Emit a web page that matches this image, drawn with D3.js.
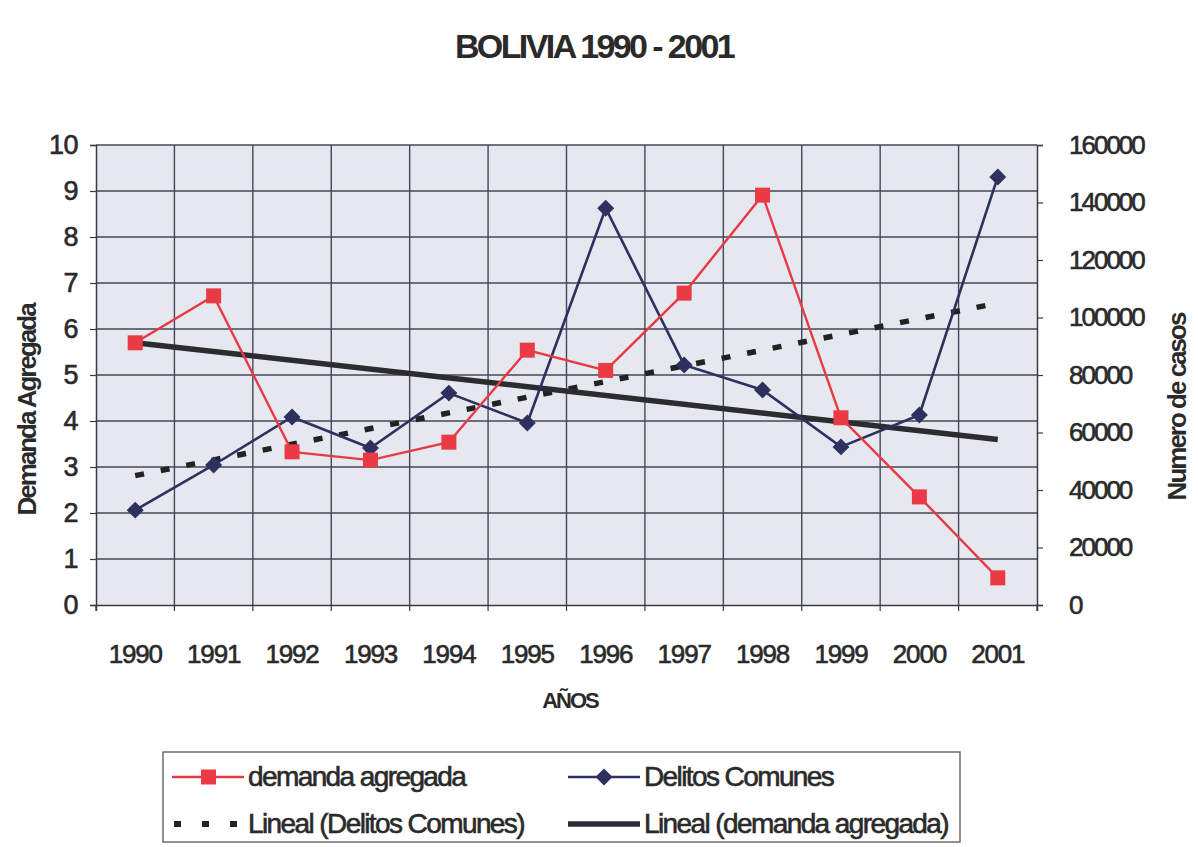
<!DOCTYPE html>
<html>
<head>
<meta charset="utf-8">
<script src="https://cdn.jsdelivr.net/npm/d3@7"></script>
<style>
  body { margin: 0; background: #fff; }
  svg text { font-family: "Liberation Sans", Arial, sans-serif; fill: #2a2a2a; }
  .heavy { stroke: #2a2a2a; stroke-width: 0.6px; }
</style>
</head>
<body>
<svg id="chart" width="1198" height="847"></svg>
<script>
// data
const years = ["1990","1991","1992","1993","1994","1995","1996","1997","1998","1999","2000","2001"];
const demanda = [5.7, 6.72, 3.33, 3.15, 3.54, 5.54, 5.1, 6.78, 8.91, 4.07, 2.35, 0.59];
const delitos = [33000, 48700, 65400, 54600, 73700, 63300, 138000, 83500, 74800, 55000, 66100, 148900];
// trend lines (endpoints 1990 and 2001)
const trendYears = ["1990", "2001"];
const trendDemanda = [5.7, 3.6];
const trendDelitos = [45000, 105000];
const leftTicks = [0,1,2,3,4,5,6,7,8,9,10];
const rightTicks = [0,20000,40000,60000,80000,100000,120000,140000,160000];

const svg = d3.select("#chart");

const plotL = 96, plotR = 1037, plotT = 145, plotB = 605;

const x = d3.scaleBand().domain(years).range([plotL, plotR]);
const cx = d => x(d) + x.bandwidth() / 2;
const yL = d3.scaleLinear().domain([0, 10]).range([plotB, plotT]);
const yR = d3.scaleLinear().domain([0, 160000]).range([plotB, plotT]);

// plot background
svg.append("rect")
  .attr("x", plotL).attr("y", plotT)
  .attr("width", plotR - plotL).attr("height", plotB - plotT)
  .attr("fill", "#e6e8f0");

// grid
const grid = svg.append("g").attr("stroke", "#44475a").attr("stroke-width", 1.4);
grid.selectAll(".hg").data(leftTicks.slice(1)).join("line")
  .attr("x1", plotL).attr("x2", plotR)
  .attr("y1", d => yL(d)).attr("y2", d => yL(d));
grid.selectAll(".vg").data(years.slice(1)).join("line")
  .attr("x1", d => x(d)).attr("x2", d => x(d))
  .attr("y1", plotT).attr("y2", plotB);

// axes
const axL = svg.append("g").attr("transform", `translate(${plotL},0)`)
  .call(d3.axisLeft(yL).tickValues(leftTicks).tickSize(6).tickPadding(12));
const axR = svg.append("g").attr("transform", `translate(${plotR},0)`)
  .call(d3.axisRight(yR).tickValues(rightTicks).tickSize(6).tickPadding(26).tickFormat(d3.format("d")));
const axB = svg.append("g").attr("transform", `translate(0,${plotB})`)
  .call(d3.axisBottom(x).tickSize(6).tickPadding(34));

[axL, axR, axB].forEach(a => {
  a.select(".domain").attr("stroke", "#3a3a44").attr("stroke-width", 1.5);
  a.selectAll(".tick line").attr("stroke", "#3a3a44").attr("stroke-width", 1.2);
  a.selectAll("text").attr("fill", "#2a2a2a").attr("class", "heavy")
    .style("font-family", "'Liberation Sans', Arial, sans-serif");
});
axL.selectAll("text").attr("font-size", 27).attr("letter-spacing", -0.5);
axR.selectAll("text").attr("font-size", 26).attr("letter-spacing", -2);
axB.selectAll("text").attr("font-size", 26).attr("letter-spacing", -1.2);
axB.selectAll(".tick line").remove();

// bottom ticks sit on the band boundaries
svg.append("g").attr("stroke", "#3a3a44").attr("stroke-width", 1.2)
  .selectAll("line").data(years.concat(["end"])).join("line")
  .attr("x1", d => d === "end" ? plotR : x(d)).attr("x2", d => d === "end" ? plotR : x(d))
  .attr("y1", plotB).attr("y2", plotB + 6);

// trend lines
const trendL = d3.line().x((d, i) => cx(trendYears[i])).y(d => yL(d));
const trendR = d3.line().x((d, i) => cx(trendYears[i])).y(d => yR(d));

svg.append("path").datum(trendDelitos)
  .attr("d", trendR).attr("fill", "none")
  .attr("stroke", "#222").attr("stroke-width", 5.5)
  .attr("stroke-dasharray", "9,17");

svg.append("path").datum(trendDemanda)
  .attr("d", trendL).attr("fill", "none")
  .attr("stroke", "#2b2b30").attr("stroke-width", 5.5);

// series lines
const lineL = d3.line().x((d, i) => cx(years[i])).y(d => yL(d));
const lineR = d3.line().x((d, i) => cx(years[i])).y(d => yR(d));

svg.append("path").datum(delitos)
  .attr("d", lineR).attr("fill", "none")
  .attr("stroke", "#2e3060").attr("stroke-width", 2.6);

svg.append("path").datum(demanda)
  .attr("d", lineL).attr("fill", "none")
  .attr("stroke", "#e83a44").attr("stroke-width", 2.4);

// markers
svg.append("g").selectAll("path").data(delitos).join("path")
  .attr("transform", (d, i) => `translate(${cx(years[i])},${yR(d)}) rotate(45)`)
  .attr("d", "M-6,-6H6V6H-6Z")
  .attr("fill", "#2e3060");

svg.append("g").selectAll("rect").data(demanda).join("rect")
  .attr("x", (d, i) => cx(years[i]) - 7.5)
  .attr("y", d => yL(d) - 7.5)
  .attr("width", 15).attr("height", 15)
  .attr("fill", "#ea3a45");

// titles
svg.append("text").attr("x", 594).attr("y", 58)
  .attr("text-anchor", "middle").attr("font-size", 34).attr("font-weight", "bold")
  .attr("letter-spacing", -2.6).text("BOLIVIA 1990 - 2001");

svg.append("text").attr("x", 570).attr("y", 708)
  .attr("text-anchor", "middle").attr("font-size", 22).attr("font-weight", "bold")
  .attr("letter-spacing", -2).text("AÑOS");

svg.append("text")
  .attr("transform", "translate(36,410) rotate(-90)")
  .attr("text-anchor", "middle").attr("font-size", 26).attr("font-weight", "bold")
  .attr("letter-spacing", -2).text("Demanda Agregada");

svg.append("text")
  .attr("transform", "translate(1186,407) rotate(-90)")
  .attr("text-anchor", "middle").attr("font-size", 26).attr("font-weight", "bold")
  .attr("letter-spacing", -2).text("Numero de casos");

// legend
const leg = svg.append("g");
leg.append("rect").attr("x", 163).attr("y", 752).attr("width", 797).attr("height", 90)
  .attr("fill", "#fff").attr("stroke", "#555").attr("stroke-width", 1.3);

const legItems = [
  {label: "demanda agregada", x: 172, y: 777, kind: "red"},
  {label: "Delitos Comunes", x: 568, y: 777, kind: "navy"},
  {label: "Lineal (Delitos Comunes)", x: 172, y: 824, kind: "dots"},
  {label: "Lineal (demanda agregada)", x: 568, y: 824, kind: "solid"}
];

legItems.forEach(it => {
  const g = leg.append("g");
  if (it.kind === "red") {
    g.append("line").attr("x1", it.x).attr("x2", it.x + 72).attr("y1", it.y).attr("y2", it.y)
      .attr("stroke", "#e83a44").attr("stroke-width", 2.6);
    g.append("rect").attr("x", it.x + 29).attr("y", it.y - 7.5).attr("width", 15).attr("height", 15)
      .attr("fill", "#ea3a45");
  } else if (it.kind === "navy") {
    g.append("line").attr("x1", it.x).attr("x2", it.x + 72).attr("y1", it.y).attr("y2", it.y)
      .attr("stroke", "#2e3060").attr("stroke-width", 2.6);
    g.append("path").attr("transform", `translate(${it.x + 36},${it.y}) rotate(45)`)
      .attr("d", "M-6,-6H6V6H-6Z").attr("fill", "#2e3060");
  } else if (it.kind === "dots") {
    g.append("line").attr("x1", it.x + 2).attr("x2", it.x + 72).attr("y1", it.y).attr("y2", it.y)
      .attr("stroke", "#222").attr("stroke-width", 6).attr("stroke-dasharray", "7,21");
  } else {
    g.append("line").attr("x1", it.x).attr("x2", it.x + 72).attr("y1", it.y).attr("y2", it.y)
      .attr("stroke", "#2b2b30").attr("stroke-width", 5.5);
  }
  g.append("text").attr("x", it.x + 76).attr("y", it.y + 9).attr("class", "heavy")
    .attr("font-size", 28).attr("letter-spacing", -1.6).text(it.label);
});
</script>
</body>
</html>
